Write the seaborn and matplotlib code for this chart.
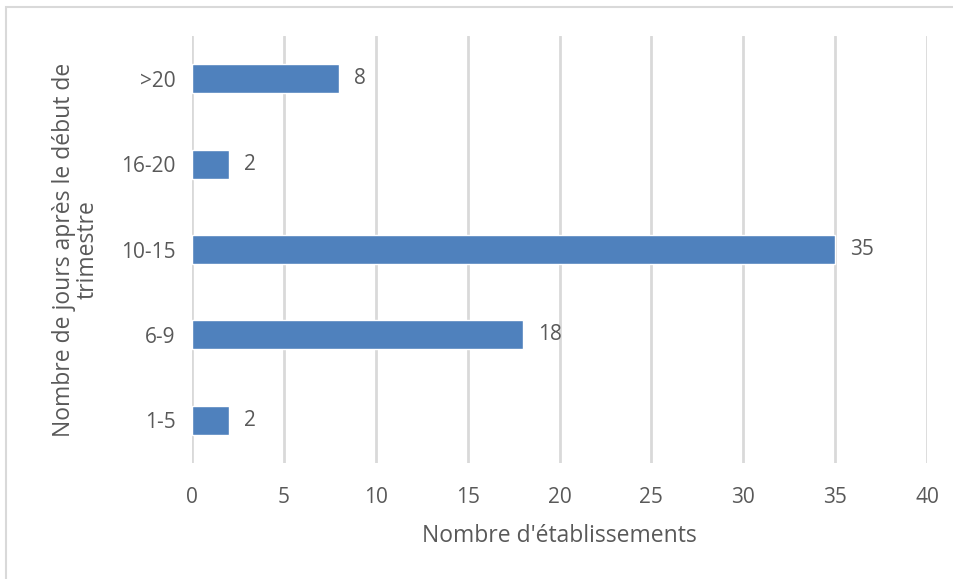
import matplotlib
matplotlib.use("Agg")
import matplotlib.pyplot as plt
import seaborn as sns
import pandas as pd
from matplotlib.patches import Rectangle

categories = [">20", "16-20", "10-15", "6-9", "1-5"]
values = [8, 2, 35, 18, 2]
x_ticks = [0, 5, 10, 15, 20, 25, 30, 35, 40]
x_label = "Nombre d'établissements"
y_label = "Nombre de jours après le début de\ntrimestre"

df = pd.DataFrame({"categorie": categories, "valeur": values})

sns.set_theme(style="white")
plt.rcParams["font.family"] = ["Open Sans", "DejaVu Sans"]

text_color = "#595959"
bar_color = "#4F81BD"
grid_color = "#D9D9D9"

fig = plt.figure(figsize=(9.54, 5.79), dpi=100)
fig.patch.set_facecolor("white")

# outer chart frame
fig.patches.append(Rectangle((6 / 954, -0.05), 1.2, 1 - 7 / 579 + 0.05,
                             transform=fig.transFigure, fill=False,
                             edgecolor="#D9D9D9", linewidth=1.5))

ax = fig.add_axes([192 / 954, 1 - 463 / 579, (927 - 192) / 954, (463 - 36) / 579])
sns.barplot(data=df, x="valeur", y="categorie", order=categories,
            color=bar_color, saturation=1, width=0.34, ax=ax, zorder=3)

ax.set_xlim(0, 40)
ax.set_ylim(4.5, -0.5)
ax.set_xticks(x_ticks)
ax.xaxis.grid(True, color=grid_color, linewidth=2, zorder=0)
ax.yaxis.grid(False)
for s in ax.spines.values():
    s.set_visible(False)

ax.tick_params(axis="x", colors=text_color, labelsize=15, length=0, pad=17)
ax.tick_params(axis="y", colors=text_color, labelsize=15, length=0, pad=12)

for cont in ax.containers:
    ax.bar_label(cont, labels=[str(v) for v in values], padding=11,
                 color=text_color, fontsize=15)

ax.set_xlabel(x_label, color=text_color, fontsize=16.5, labelpad=12)
ax.set_ylabel(y_label, color=text_color, fontsize=16.5, labelpad=15,
              linespacing=1.0)

fig.savefig("out.png", dpi=100)
